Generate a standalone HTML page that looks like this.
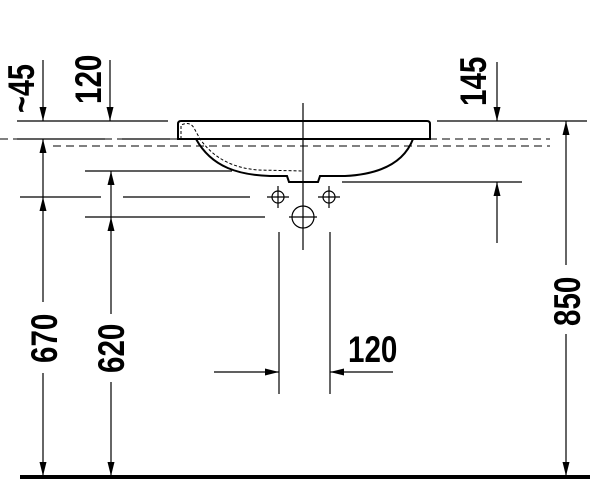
<!DOCTYPE html>
<html><head><meta charset="utf-8"><style>
html,body{margin:0;padding:0;background:#fff;}
svg{display:block;}
text{font-family:"Liberation Sans",sans-serif;font-weight:bold;font-size:37px;fill:#000;}
</style></head><body>
<svg width="600" height="500" viewBox="0 0 600 500" xmlns="http://www.w3.org/2000/svg">
<defs>
<marker id="a" viewBox="0 0 14 14" refX="14" refY="7" markerWidth="14" markerHeight="14" markerUnits="userSpaceOnUse" orient="auto">
<path d="M0,3.5 L14,7 L0,10.5 Z" fill="#000"/>
</marker>
</defs>
<g stroke="#000" stroke-width="1.2" fill="none">
<line x1="17" y1="121" x2="168" y2="121"/>
<line x1="17" y1="139" x2="105" y2="139"/>
<line x1="122" y1="139" x2="170" y2="139"/>
<line x1="437" y1="121" x2="587" y2="121"/>
<line x1="85" y1="171" x2="232" y2="171"/>
<line x1="20" y1="197" x2="101" y2="197"/>
<line x1="123" y1="197" x2="250" y2="197"/>
<line x1="85" y1="217" x2="265" y2="217"/>
<line x1="342" y1="182" x2="522" y2="182"/>
<line x1="0" y1="139" x2="550" y2="139" stroke-dasharray="8,5" stroke-width="1"/>
<line x1="53" y1="146" x2="550" y2="146" stroke-dasharray="8,5" stroke-width="1"/>
<line x1="43" y1="60" x2="43" y2="121" marker-end="url(#a)"/>
<line x1="110" y1="60" x2="110" y2="121" marker-end="url(#a)"/>
<line x1="497" y1="62" x2="497" y2="121" marker-end="url(#a)"/>
<line x1="43" y1="197" x2="43" y2="139" marker-end="url(#a)"/>
<line x1="43" y1="302" x2="43" y2="197" marker-end="url(#a)"/>
<line x1="43" y1="373" x2="43" y2="476" marker-end="url(#a)"/>
<line x1="111" y1="217" x2="111" y2="171" marker-end="url(#a)"/>
<line x1="111" y1="314" x2="111" y2="217" marker-end="url(#a)"/>
<line x1="111" y1="382" x2="111" y2="476" marker-end="url(#a)"/>
<line x1="497" y1="243" x2="497" y2="182" marker-end="url(#a)"/>
<line x1="566" y1="265" x2="566" y2="121" marker-end="url(#a)"/>
<line x1="566" y1="334" x2="566" y2="476" marker-end="url(#a)"/>
<line x1="279" y1="232" x2="279" y2="394"/>
<line x1="330" y1="232" x2="330" y2="394"/>
<line x1="214" y1="372" x2="279" y2="372" marker-end="url(#a)"/>
<line x1="393" y1="372" x2="330" y2="372" marker-end="url(#a)"/>
<line x1="303" y1="103" x2="303" y2="250"/>
<path d="M178,139 L178,124 Q178,121 181,121 L427,121 Q430,121 430,124 L430,139 Z" stroke-width="2"/>
<path d="M196,139 C212,168 240,175 270,176 L287,176 L289,182 L318,182 L320,176 L345,176 C385,174 405,160 413,139" stroke-width="2"/>
<path d="M181,139 L181,125 Q190,121 194,128 L200,139 C215,160 235,168 258,170 L303,171" stroke-width="1" stroke-dasharray="3,2"/>
<circle cx="278" cy="197" r="6"/><circle cx="329" cy="197" r="6"/>
<line x1="267" y1="197" x2="289" y2="197"/><line x1="278" y1="186" x2="278" y2="208"/>
<line x1="318" y1="197" x2="340" y2="197"/><line x1="329" y1="186" x2="329" y2="208"/>
<circle cx="303" cy="217" r="11"/>
<line x1="289" y1="217" x2="317" y2="217"/>
<line x1="20" y1="477" x2="590" y2="477" stroke-width="4"/>
</g>
<text transform="translate(34,113) rotate(-90) scale(0.78,1)">~45</text>
<text transform="translate(101,104) rotate(-90) scale(0.8,1)">120</text>
<text transform="translate(486,106) rotate(-90) scale(0.8,1)">145</text>
<text transform="translate(57,363) rotate(-90) scale(0.8,1)">670</text>
<text transform="translate(124,373) rotate(-90) scale(0.8,1)">620</text>
<text transform="translate(580,326) rotate(-90) scale(0.8,1)">850</text>
<text transform="translate(348,362) scale(0.8,1)">120</text>
</svg>
</body></html>
